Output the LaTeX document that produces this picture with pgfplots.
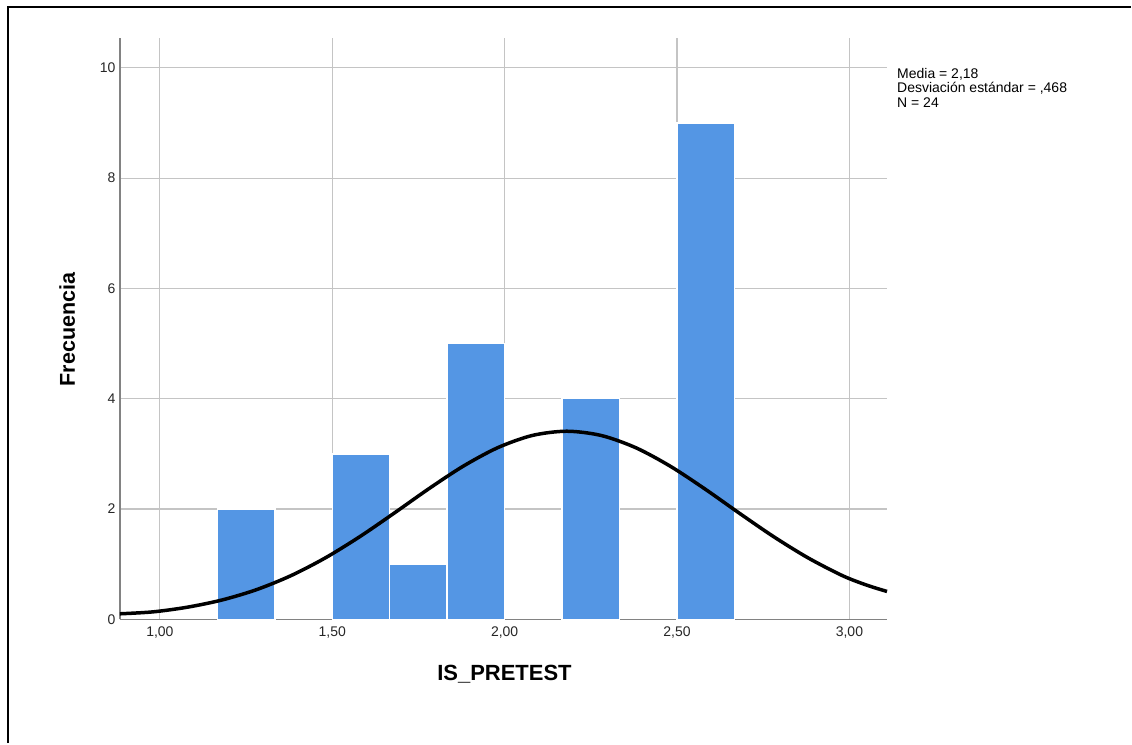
\documentclass[border=0pt]{standalone}
\usepackage{fontspec}
\setmainfont{Liberation Sans}
\usepackage{pgfplots}
\pgfplotsset{compat=1.18}
\definecolor{barblue}{RGB}{84,150,228}
\definecolor{gridgray}{RGB}{196,196,196}
\definecolor{axisgray}{RGB}{130,130,130}
\begin{document}
\begin{tikzpicture}
\path[fill=white] (0pt,0pt) rectangle (1132pt,744pt);
\draw[black,line width=2.5pt] (8pt,0pt) -- (8pt,737pt) -- (1132pt,737pt);
\begin{axis}[
  at={(120pt,124pt)}, anchor=south west,
  scale only axis, width=768pt, height=582pt,
  xmin=0.884, xmax=3.109, ymin=0, ymax=10.54,
  axis lines=left, axis line style={axisgray,line width=1.3pt,-},
  xtick={1,1.5,2,2.5,3}, ytick={0,2,4,6,8,10},
  xticklabels={{1,00},{1,50},{2,00},{2,50},{3,00}},
  yticklabels={0,2,4,6,8,10},
  major tick length=0pt,
  grid=major, major grid style={gridgray,line width=1.1pt},
  tick label style={font=\fontsize{14}{16}\selectfont, text=black!85},
  xticklabel style={yshift=-4pt},
  yticklabel style={xshift=-1pt},
  clip=false,
]
\addplot[ybar interval, fill=barblue, draw=white, line width=1.5pt] coordinates {(1.16667,2) (1.33333,2)};
\addplot[ybar interval, fill=barblue, draw=white, line width=1.5pt] coordinates {(1.5,3) (1.66667,1) (1.83333,5) (2.0,5)};
\addplot[ybar interval, fill=barblue, draw=white, line width=1.5pt] coordinates {(2.16667,4) (2.33333,4)};
\addplot[ybar interval, fill=barblue, draw=white, line width=1.5pt] coordinates {(2.5,9) (2.66667,9)};
\addplot[black, line width=3.5pt, smooth, mark=none] coordinates {
(0.884,0.10) (0.98,0.135) (1.08,0.220) (1.18,0.350) (1.28,0.537) (1.38,0.791)
(1.48,1.114) (1.58,1.499) (1.68,1.927) (1.78,2.367) (1.88,2.777) (1.98,3.112)
(2.08,3.333) (2.18,3.410) (2.28,3.333) (2.38,3.112) (2.48,2.777) (2.58,2.367)
(2.68,1.927) (2.78,1.499) (2.88,1.114) (2.98,0.791) (3.05,0.620) (3.109,0.505)};
\end{axis}
\node[anchor=base, font=\fontsize{22}{26}\selectfont\bfseries] at (505pt,63pt) {IS\_PRETEST};
\node[anchor=base, rotate=90, font=\fontsize{21.5}{26}\selectfont\bfseries] at (75pt,414pt) {Frecuencia};
\node[anchor=north west, align=left, inner sep=0pt, font=\fontsize{14}{14.5}\selectfont] at (898pt,676pt) {Media = 2,18\\Desviación estándar = ,468\\N = 24};
\end{tikzpicture}
\end{document}
